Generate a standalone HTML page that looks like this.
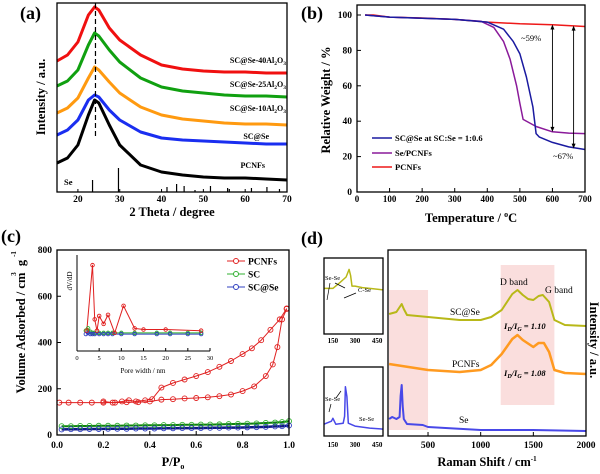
<!DOCTYPE html>
<html><head><meta charset="utf-8">
<style>
html,body{margin:0;padding:0;background:#fff;}
svg{display:block;font-family:"Liberation Serif",serif;font-weight:bold;}
</style></head>
<body>
<svg id="chart" width="600" height="474" viewBox="0 0 600 474" xmlns="http://www.w3.org/2000/svg"></svg>
<script>
// ---------- Panel (a) XRD data ----------
const xrdTheta = [15,17.5,20,22.5,24,25,27.5,30,35,40,45,50,55,60,65,70];
const xrdRed    = [131,137,150,177,185,182,164,152,137,127,123,121,120,120,119,119];
const xrdGreen  = [106,111,122,147,159,156,142,130,114,105,101,99,97,96,96,95];
const xrdOrange = [79,84,94,114,125,122,110,99,85,77,73,71,69,68,68,67];
const xrdBlue   = [57,62,72,92,97,95,82,72,60,54,52,51,50,49,48,48];
const xrdBlack  = [29,34,47,77,92,89,67,47,27,20,17,15,14,14,13,12];
const seRefPos = [23.5,29.7,41.3,43.6,45.4,48,51.7,55.8,56.2,61.5,65.2,68.2];
const seRefH   = [12,24,5,8,6,2,6,4,3,4,5,3];
const xrdXTicks = [20,30,40,50,60,70];
// ---------- Panel (b) TGA data ----------
const tgaT_P = [25,50,100,200,300,400,500,600,700];
const tgaPCNF = [100,100,98.8,98.3,97.5,96,95,94.5,93.5];
const tgaT_S = [25,100,300,380,420,450,470,490,500,510,550,600,650,700];
const tgaSePC = [100,98.8,97.5,96.5,93,85,75,60,50,41,37,34,33.3,33];
const tgaT_C = [25,100,300,400,450,480,500,520,540,550,560,600,650,700];
const tgaSCSe = [100,98.8,97.5,96,92,85,78,65,48,33,31,28,25.5,24];
const tgaXTicks = [0,100,200,300,400,500,600,700];
const tgaYTicks = [0,20,40,60,80,100];
// ---------- Panel (c) BET data ----------
const betAdsP = [0.01,0.05,0.1,0.15,0.2,0.25,0.3,0.35,0.4,0.45,0.5,0.55,0.6,0.65,0.7,0.75,0.8,0.85,0.9,0.93,0.95,0.97,0.99];
const betAdsV = [140,140,140,140,140,140,142,142,145,153,155,158,160,163,168,175,190,210,255,305,380,500,545];
const betDesP = [0.99,0.96,0.92,0.88,0.84,0.8,0.75,0.7,0.65,0.6,0.55,0.5,0.45,0.41,0.38,0.34,0.31,0.28,0.24,0.2];
const betDesV = [547,500,455,410,375,350,320,295,272,255,240,225,205,155,150,145,150,145,140,145];
const betP = [0.02,0.06,0.1,0.14,0.18,0.22,0.26,0.3,0.34,0.38,0.42,0.46,0.5,0.54,0.58,0.62,0.66,0.7,0.74,0.78,0.82,0.86,0.9,0.94,0.97,1.0];
const betSC =   [38,38,39,39,40,40,40,41,41,42,42,43,43,44,44,45,45,46,47,48,49,50,52,54,56,60];
const betSCSe = [24,25,25,26,26,27,27,27,28,28,28,29,29,30,30,30,31,31,32,32,33,34,35,37,38,41];
const poreW   = [2.2,3.5,4,4.5,5,6,7,8.5,10.5,13,15,20,28];
const porePC  = [18,76,28,18,31,24,32,16,40,20,19,19,18];
const poreW2  = [2,2.5,3,3.5,4,5,6,7,8,10,13,18,21,25,28];
const poreSC  = [18,20,17,16,16,16,16,16,16,16,16,16,16,16,16];
const poreSCSe= [15,16,15,15,15,15,15,15,15,15,15,15,15,15,15];
const betXTicks = [0,0.2,0.4,0.6,0.8,1.0];
const betYTicks = [0,200,400,600,800];
const poreXTicks = [0,5,10,15,20,25,30];
// ---------- Panel (d) Raman data ----------
const ramX = [130,200,250,270,300,500,800,1000,1100,1200,1300,1350,1400,1450,1500,1550,1590,1650,1700,1800,2000];
const ramSCSe = [122,124,132,127,121,119,116,116,119,126,142,146,141,137,136,140,141,134,116,111,110];
const ramXo = [130,500,800,1000,1100,1200,1300,1350,1400,1500,1550,1600,1650,1700,1800,2000];
const ramPC = [72,66,64,66,71,82,97,101,96,89,93,93,84,66,63,62];
const ramXs = [130,160,200,230,240,250,260,270,300,450,500,1000,1500,2000];
const ramSe = [17,19,17,19,40,51,30,17,12,11,9,6,6,5];
const insX = [90,150,200,240,260,270,280,300,350,400,490];
const insSCSe = [60,60,68,75,85,77,63,63,61,60,58];
const insXs = [90,140,150,170,220,230,235,245,255,300,400,490];
const insSe = [12,15,18,12,13,20,50,40,13,10,8,7];
const ramXTicks = [500,1000,1500,2000];
const insXTicks = [150,300,450];

const NS = "http://www.w3.org/2000/svg";
const svg = document.getElementById('chart');
function add(tag, attrs, name, parent) {
  const e = document.createElementNS(NS, tag);
  for (const k in attrs) e.setAttribute(k, attrs[k]);
  
  
  (parent || svg).appendChild(e);
  return e;
}
function lin(d0,d1,r0,r1){ return v => r0 + (v-d0)*(r1-r0)/(d1-d0); }
function txt(x,y,s,size,name,anchor,extra){
  const t = add('text', Object.assign({x:x,y:y,'font-size':size,'text-anchor':anchor||'start'}, extra||{}), name);
  t.textContent = s; return t;
}
function path(xs,ys,sx,sy,color,w,name){
  let d='';
  for(let i=0;i<xs.length;i++) d += (i?'L':'M') + sx(xs[i]).toFixed(1)+','+sy(ys[i]).toFixed(1);
  return add('path',{d:d,fill:'none',stroke:color,'stroke-width':w,'stroke-linejoin':'round'},name);
}
function circles(xs,ys,sx,sy,color,r,name){
  for(let i=0;i<xs.length;i++) add('circle',{cx:sx(xs[i]),cy:sy(ys[i]),r:r,fill:'none',stroke:color,'stroke-width':0.9},name);
}
function box(x0,y0,x1,y1,name){ add('rect',{x:x0,y:y0,width:x1-x0,height:y1-y0,fill:'none',stroke:'#000','stroke-width':1.3},name); }
function span(t, s, dy, size){
  const a = document.createElementNS(NS,'tspan');
  if(dy) a.setAttribute('dy',dy);
  if(size) a.setAttribute('font-size',size);
  a.textContent = s; t.appendChild(a);
}
function alLabel(x,y,pre,name){
  const t = txt(x,y,'',8,name,'end');
  span(t,pre+'Al'); span(t,'2','2','5.5'); span(t,'O','-2'); span(t,'3','2','5.5');
  return t;
}

// ===== Panel (a) =====
(function(){
  const sx = lin(15,70,57,287), sy = lin(0,192,192,0);
  path(xrdTheta,xrdRed,sx,sy,'#f01010',3,'xrd-line-40al2o3');
  path(xrdTheta,xrdGreen,sx,sy,'#10a010',3,'xrd-line-25al2o3');
  path(xrdTheta,xrdOrange,sx,sy,'#ff9a10',3,'xrd-line-10al2o3');
  path(xrdTheta,xrdBlue,sx,sy,'#1a2ef0',3,'xrd-line-scse');
  path(xrdTheta,xrdBlack,sx,sy,'#000',3,'xrd-line-pcnfs');
  add('line',{x1:sx(24.2),x2:sx(24.2),y1:3,y2:137,stroke:'#000','stroke-width':1.2,'stroke-dasharray':'5,3'},'peak-dashed-line');
  for(let i=0;i<seRefPos.length;i++) add('line',{x1:sx(seRefPos[i]),x2:sx(seRefPos[i]),y1:192,y2:192-seRefH[i],stroke:'#000','stroke-width':1.2},'se-reference-stick');
  box(57,3,287,192,'xrd-plot-frame');
  xrdXTicks.forEach(v=>{ add('line',{x1:sx(v),x2:sx(v),y1:192,y2:189,stroke:'#000'},'x-tick'); txt(sx(v),202,String(v),9.5,'x-tick-label','middle'); });
  txt(172,216,'2 Theta / degree',12.5,'x-axis-title','middle');
  txt(0,0,'Intensity / a.u.',12.5,'y-axis-title','middle',{transform:'translate(45,97) rotate(-90)'});
  txt(20,19,'(a)',18,'panel-label-a');
  alLabel(286,63,'SC@Se-40','label-40al2o3');
  alLabel(286,87,'SC@Se-25','label-25al2o3');
  alLabel(286,111,'SC@Se-10','label-10al2o3');
  txt(269,139,'SC@Se',8,'label-scse','end');
  txt(265,168,'PCNFs',8,'label-pcnfs','end');
  txt(64,185,'Se',8.5,'label-se');
})();

// ===== Panel (b) =====
(function(){
  const sx = lin(0,700,357,585), sy = lin(0,100,192,15);
  path(tgaT_P,tgaPCNF,sx,sy,'#ee1818',1.5,'tga-line-pcnfs');
  path(tgaT_S,tgaSePC,sx,sy,'#8a1a9a',1.5,'tga-line-se-pcnfs');
  path(tgaT_C,tgaSCSe,sx,sy,'#1a1aa0',1.5,'tga-line-scse');
  box(357,5,585,192,'tga-plot-frame');
  tgaXTicks.forEach(v=>{ add('line',{x1:sx(v),x2:sx(v),y1:192,y2:188,stroke:'#000'},'x-tick'); txt(sx(v),202,String(v),9,'x-tick-label','middle'); });
  tgaYTicks.forEach(v=>{ add('line',{x1:357,x2:361,y1:sy(v),y2:sy(v),stroke:'#000'},'y-tick'); txt(352,sy(v)+3,String(v),9.5,'y-tick-label','end'); });
  const tt = txt(471,222,'Temperature / ',12.5,'x-axis-title','middle');
  span(tt,'o','-5','8'); span(tt,'C','5');
  txt(0,0,'Relative Weight / %',12.5,'y-axis-title','middle',{transform:'translate(330,100) rotate(-90)'});
  txt(301,19,'(b)',18,'panel-label-b');
  [[600,94.6,34],[665,94,24.5]].forEach(a=>{
    add('line',{x1:sx(a[0]),x2:sx(a[0]),y1:sy(a[1])+2,y2:sy(a[2])-2,stroke:'#000','stroke-width':0.9},'percent-arrow');
    add('path',{d:`M${sx(a[0])-2},${sy(a[1])+5}L${sx(a[0])},${sy(a[1])}L${sx(a[0])+2},${sy(a[1])+5}Z`,fill:'#000'},'arrow-head');
    add('path',{d:`M${sx(a[0])-2},${sy(a[2])-5}L${sx(a[0])},${sy(a[2])}L${sx(a[0])+2},${sy(a[2])-5}Z`,fill:'#000'},'arrow-head');
  });
  txt(521,41,'~59%',8.5,'annotation-59','start',{'font-weight':'normal'});
  txt(553,159,'~67%',8.5,'annotation-67','start',{'font-weight':'normal'});
  const lg=[['SC@Se at SC:Se = 1:0.6','#1a1aa0',138],['Se/PCNFs','#8a1a9a',153],['PCNFs','#ee1818',167]];
  lg.forEach(l=>{ add('line',{x1:372,x2:392,y1:l[2],y2:l[2],stroke:l[1],'stroke-width':1.5},'legend-line'); txt(395,l[2]+3,l[0],8.5,'legend-entry'); });
})();

// ===== Panel (c) =====
(function(){
  const sx = lin(0,1,57,289), sy = lin(0,800,435,250);
  path(betP,betSC,sx,sy,'#108010',2,'bet-line-sc');
  path(betP,betSCSe,sx,sy,'#101a80',2.5,'bet-line-scse');
  circles(betP,betSC,sx,sy,'#30b030',2.5,'bet-marker-sc');
  circles(betP,betSCSe,sx,sy,'#3040c0',2.5,'bet-marker-scse');
  path(betAdsP,betAdsV,sx,sy,'#e02020',1,'bet-adsorption-pcnfs');
  path(betDesP,betDesV,sx,sy,'#e02020',1,'bet-desorption-pcnfs');
  circles(betAdsP,betAdsV,sx,sy,'#e02020',2.5,'bet-marker-pcnfs');
  circles(betDesP,betDesV,sx,sy,'#e02020',2.5,'bet-marker-pcnfs');
  box(57,250,289,435,'bet-plot-frame');
  betXTicks.forEach(v=>{ add('line',{x1:sx(v),x2:sx(v),y1:435,y2:431,stroke:'#000'},'x-tick'); txt(sx(v),448,v.toFixed(1),9.5,'x-tick-label','middle'); });
  betYTicks.forEach(v=>{ add('line',{x1:57,x2:61,y1:sy(v),y2:sy(v),stroke:'#000'},'y-tick'); txt(52,sy(v)+3,String(v),9.5,'y-tick-label','end'); });
  const px = txt(173,466,'P/P',12.5,'x-axis-title','middle');
  span(px,'o','3','8');
  txt(0,0,'Volume Adsorbed / cm',12.5,'y-axis-title','middle',{transform:'translate(25,333) rotate(-90)'});
  txt(0,0,'3',7,'y-axis-title-sup','middle',{transform:'translate(16,274) rotate(-90)'});
  txt(0,0,'g',12.5,'y-axis-title-g','middle',{transform:'translate(25,263) rotate(-90)'});
  txt(0,0,'-1',7,'y-axis-title-sup','middle',{transform:'translate(16,254) rotate(-90)'});
  txt(1,242,'(c)',18,'panel-label-c');
  const ix = lin(0,30,77,210), iy = lin(0,85,351,255);
  path(poreW2,poreSC,ix,iy,'#30b030',1,'inset-line-sc');
  path(poreW2,poreSCSe,ix,iy,'#3040c0',1,'inset-line-scse');
  path(poreW,porePC,ix,iy,'#e02020',1,'inset-line-pcnfs');
  circles(poreW2,poreSC,ix,iy,'#30b030',1.8,'inset-marker-sc');
  circles(poreW2,poreSCSe,ix,iy,'#3040c0',1.8,'inset-marker-scse');
  circles(poreW,porePC,ix,iy,'#e02020',1.8,'inset-marker-pcnfs');
  add('line',{x1:77,x2:77,y1:255,y2:351,stroke:'#000'},'inset-y-axis');
  add('line',{x1:77,x2:210,y1:351,y2:351,stroke:'#000'},'inset-x-axis');
  poreXTicks.forEach(v=>{ add('line',{x1:ix(v),x2:ix(v),y1:351,y2:348,stroke:'#000'},'inset-x-tick'); txt(ix(v),360,String(v),6.5,'inset-x-tick-label','middle',{'font-weight':'normal'}); });
  txt(143,373,'Pore width / nm',7,'inset-x-title','middle',{'font-weight':'normal'});
  txt(0,0,'dV/dD',7,'inset-y-title','middle',{transform:'translate(72,281) rotate(-90)','font-weight':'normal'});
  const lg=[['PCNFs','#e02020',261],['SC','#30b030',274],['SC@Se','#3040c0',287]];
  lg.forEach(l=>{ add('line',{x1:227,x2:245,y1:l[2],y2:l[2],stroke:l[1],'stroke-width':1},'legend-line'); add('circle',{cx:236,cy:l[2],r:2.5,fill:'#fff',stroke:l[1]},'legend-marker'); txt(248,l[2]+3.5,l[0],9.5,'legend-entry'); });
})();

// ===== Panel (d) =====
(function(){
  const sx = lin(120,2000,388,586), sy = lin(0,186,436,250);
  add('rect',{x:sx(130),y:290,width:sx(500)-sx(130),height:140,fill:'#f9d6d4',opacity:0.8},'shaded-region-se');
  add('rect',{x:sx(1190),y:265,width:sx(1700)-sx(1190),height:140,fill:'#f9d6d4',opacity:0.8},'shaded-region-dg');
  path(ramX,ramSCSe,sx,sy,'#b8b818',2,'raman-line-scse');
  path(ramXo,ramPC,sx,sy,'#ff9a20',2.5,'raman-line-pcnfs');
  path(ramXs,ramSe,sx,sy,'#4848e8',2,'raman-line-se');
  box(388,250,586,436,'raman-plot-frame');
  ramXTicks.forEach(v=>{ add('line',{x1:sx(v),x2:sx(v),y1:436,y2:432,stroke:'#000'},'x-tick'); txt(sx(v),448,String(v),9.5,'x-tick-label','middle'); });
  const rt = txt(487,466,'Raman Shift / cm',12.5,'x-axis-title','middle');
  span(rt,'-1','-5','7');
  txt(0,0,'Intensity / a.u.',12.5,'y-axis-title','middle',{transform:'translate(590,340) rotate(90)'});
  txt(301,244,'(d)',18,'panel-label-d');
  txt(450,315,'SC@Se',9.5,'label-scse','start',{'font-weight':'normal'});
  txt(452,367,'PCNFs',9.5,'label-pcnfs','start',{'font-weight':'normal'});
  txt(459,423,'Se',9.5,'label-se','start',{'font-weight':'normal'});
  txt(500,285,'D band',9.5,'label-d-band','start',{'font-weight':'normal'});
  txt(545,293,'G band',9.5,'label-g-band','start',{'font-weight':'normal'});
  [[504,329,'1.10','ratio-label-scse'],[504,376,'1.08','ratio-label-pcnfs']].forEach(r=>{
    const t=txt(r[0],r[1],'I',8.5,r[3],'start',{'font-style':'italic'});
    span(t,'D','2','6'); span(t,'/I','-2'); span(t,'G','2','6'); span(t,' = '+r[2],'-2');
  });
  const ix = lin(90,490,324,383);
  const iyT = lin(0,100,334,258), iyB = lin(0,70,436,367);
  path(insX,insSCSe,ix,iyT,'#b8b818',1.5,'inset-raman-scse');
  path(insXs,insSe,ix,iyB,'#4848e8',1.5,'inset-raman-se');
  box(324,258,383,334,'inset-top-frame');
  box(324,367,383,436,'inset-bottom-frame');
  insXTicks.forEach(v=>{
    txt(ix(v),343,String(v),7,'inset-top-tick-label','middle');
    txt(ix(v),447,String(v),7,'inset-bottom-tick-label','middle');
  });
  txt(325,280,'Se-Se',6.5,'label-se-se','start',{'font-weight':'normal'});
  txt(358,292,'C-Se',6.5,'label-c-se','start',{'font-weight':'normal'});
  txt(325,401,'Se-Se',6.5,'label-se-se','start',{'font-weight':'normal'});
  txt(359,421,'Se-Se',6.5,'label-se-se','start',{'font-weight':'normal'});
  [[330,283,327,300],[335,283,345,288],[344,298,356,293],[331,404,329,412],[336,398,341,391]].forEach(a=>{
    add('line',{x1:a[0],y1:a[1],x2:a[2],y2:a[3],stroke:'#000','stroke-width':0.7},'annotation-arrow');
  });
})();
</script>
</body></html>
